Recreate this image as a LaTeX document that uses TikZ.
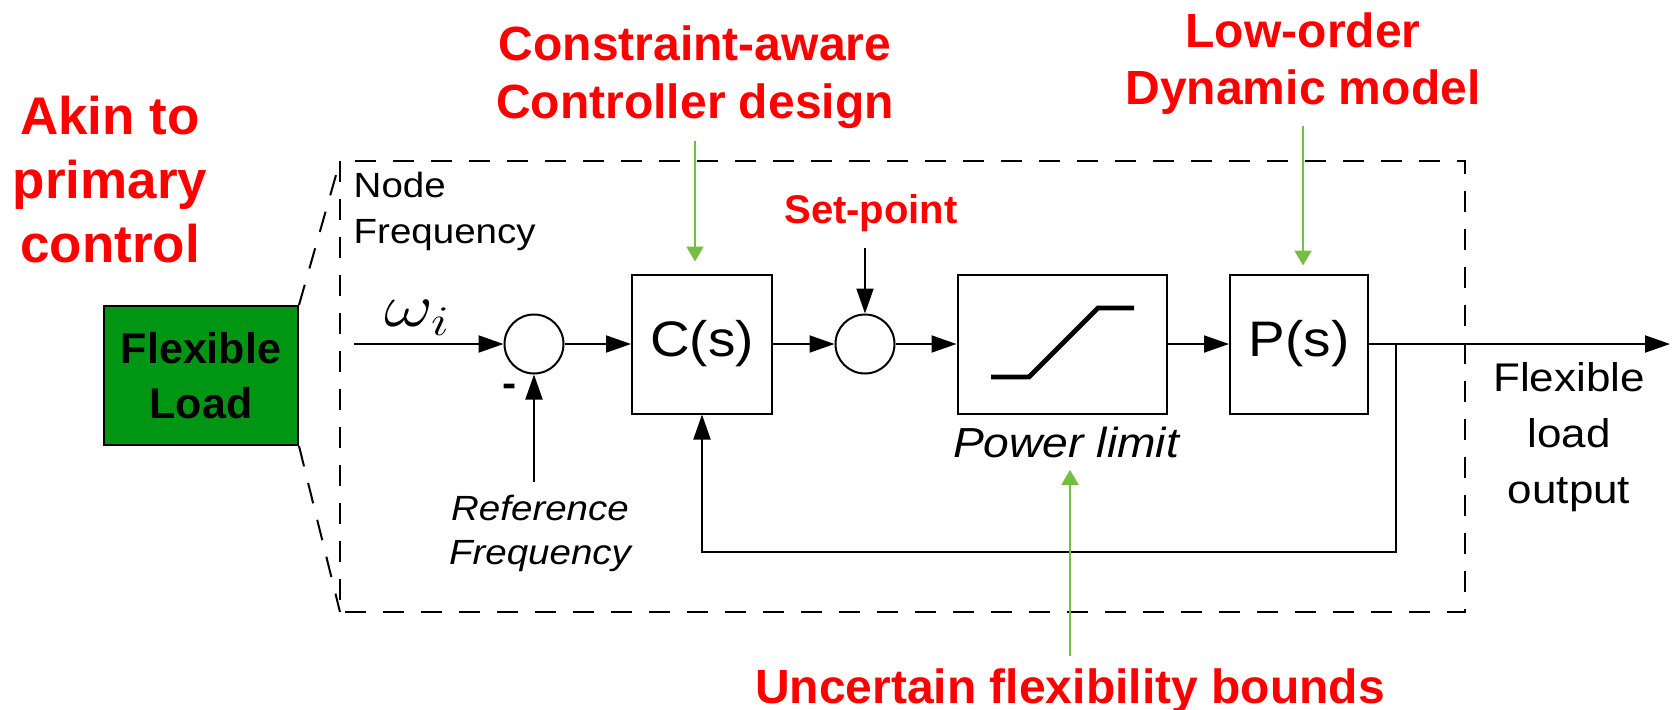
\documentclass[tikz,border=0pt]{standalone}
\usepackage{fontspec}
\usepackage{graphicx}
\setmainfont{Liberation Sans}
\newfontfamily\largo{Liberation Sans}[FakeStretch=1.1]
\usetikzlibrary{arrows.meta}
\definecolor{rosso}{RGB}{255,0,0}
\definecolor{verdino}{RGB}{118,190,67}
\definecolor{verdone}{RGB}{0,150,20}

\tikzset{
	blocco/.style={draw, line width=0.57pt, minimum width=1.39cm, minimum height=1.39cm, inner sep=0pt, font=\largo\fontsize{14.2}{17}\selectfont},
	somma/.style={draw, circle, line width=0.57pt, minimum size=0.59cm, inner sep=0pt},
	freccia/.style={line width=0.57pt, -{Triangle[length=0.25cm, width=0.17cm]}},
	verde/.style={verdino, line width=0.6pt, -{Triangle[length=0.15cm, width=0.17cm]}},
	rossa/.style={text=rosso, align=center, font=\bfseries\fontsize{13.66}{16.22}\selectfont},
	tratteggio/.style={line width=0.57pt, dash pattern=on 0.21cm off 0.17cm}
}

\begin{document}
\begin{tikzpicture}
				\useasboundingbox (0,0) rectangle (16.74,7.09);
				
				% Carico flessibile
				\node[draw, fill=verdone, line width=0.57pt, minimum width=1.94cm, minimum height=1.39cm, align=center, font=\bfseries\fontsize{12.23}{15.65}\selectfont] (flex) at (2.01,3.335) {Flexible\\Load};
				
				% Riquadro tratteggiato
				\coordinate (fa) at (3.40,5.48);
				\coordinate (fb) at (3.40,0.97);
				\coordinate (fc) at (14.65,0.97);
				\draw[tratteggio] (fa) rectangle (fc);
				\draw[tratteggio] (flex.north east) -- (fa);
				\draw[tratteggio] (flex.south east) -- (fb);
				
				% Blocchi dell'anello
				\node[somma] (s1) at (5.34,3.65) {};
				\node[blocco, minimum width=1.40cm] (ctrl) at (7.02,3.65) {C(s)};
				\node[somma] (s2) at (8.65,3.65) {};
				\node[blocco, minimum width=2.09cm] (lim) at (10.62,3.65) {};
				\node[blocco, minimum width=1.38cm] (plant) at (12.99,3.65) {P(s)};
				\draw[line width=1.35pt] (9.91,3.32) -- (10.29,3.32) -- (10.98,4.01) -- (11.34,4.01);
				
				% Etichette nere
				\node[anchor=base west, align=left, inner sep=0pt, font=\largo\fontsize{9.96}{13.09}\selectfont] (nf) at (3.53,4.66) {Node\\Frequency};
				\node[font=\fontsize{17}{20}\selectfont] (om) at (4.18,3.91) {\scalebox{1.25}[1]{$\omega_i$}};
				\node[font=\largo\bfseries\fontsize{11}{13}\selectfont] (meno) at (5.10,3.19) {-};
				\node[anchor=base, align=center, font=\largo\itshape\fontsize{9.96}{12.52}\selectfont] (ref) at (5.40,1.45) {Reference\\Frequency};
				\node[anchor=base, font=\largo\itshape\fontsize{11.95}{14}\selectfont] (plab) at (10.66,2.52) {Power limit};
				\node[anchor=base, align=center, font=\largo\fontsize{11.38}{15.93}\selectfont] (outlab) at (15.69,2.06) {Flexible\\load\\output};
				
				% Collegamenti
				\coordinate (ingr) at (3.54,3.65);
				\coordinate (sp) at (8.65,4.61);
				\coordinate (ramo) at (13.96,3.65);
				\coordinate (ritorno) at (13.96,1.57);
				\coordinate (uscita) at (16.70,3.65);
				\draw[freccia] (ingr) -- (s1);
				\draw[freccia] (s1) -- (ctrl);
				\draw[freccia] (ctrl) -- (s2);
				\draw[freccia] (sp) -- (s2);
				\draw[freccia] (s2) -- (lim);
				\draw[freccia] (lim) -- (plant);
				\draw[freccia] (plant) -- (uscita);
				\draw[freccia] (ramo) -- (ritorno) -| (ctrl.south);
				\draw[freccia] (ref.north -| s1.south) -- (s1.south);
				
				% Etichette rosse
				\node[rossa, anchor=base, font=\bfseries\fontsize{15.08}{18.07}\selectfont] (akin) at (1.10,4.47) {Akin to\\primary\\control};
				\node[rossa, anchor=base] (cad) at (6.95,5.91) {Constraint-aware\\Controller design};
				\node[rossa, anchor=base] (lod) at (13.03,6.05) {Low-order\\Dynamic model};
				\node[rossa, anchor=base, font=\bfseries\fontsize{11.38}{13}\selectfont] (setp) at (8.71,4.86) {Set-point};
				\node[rossa, anchor=base] (unc) at (10.70,0.06) {Uncertain flexibility bounds};
				
				% Frecce verdi
				\draw[verde, shorten >=0.12cm] (cad.south) -- (cad.south |- ctrl.north);
				\draw[verde, shorten >=0.08cm] (lod.south) -- (lod.south |- plant.north);
				\draw[verde] (unc.north) -- (unc.north |- plab.south);
			\end{tikzpicture}
\end{document}
